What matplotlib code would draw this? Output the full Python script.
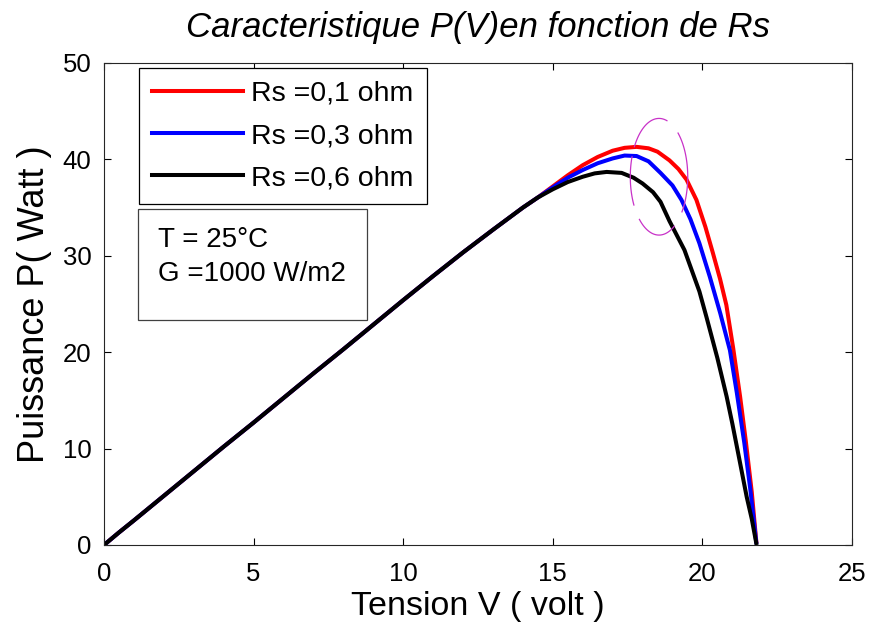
import numpy as np
import matplotlib
matplotlib.use("Agg")
import matplotlib.pyplot as plt
from matplotlib.patches import Rectangle

plt.rcParams['font.family'] = ['Liberation Sans', 'DejaVu Sans']

# common linear rise of the P(V) curves (volt, watt)
v_rise = [0, 0.5, 1, 2, 3, 4, 5, 6, 7, 8, 9, 10, 11, 12, 13, 14, 14.5]
p_rise = [0, 1.3, 2.55, 5.1, 7.65, 10.2, 12.7, 15.25, 17.8, 20.3, 22.85, 25.4, 27.9, 30.35, 32.7, 35.0, 36.05]

# knee and fall for each series resistance
v_rs01 = [15, 15.5, 16, 16.5, 17, 17.4, 17.8, 18.2, 18.5, 18.9, 19.2, 19.47, 19.8, 20.1,
          20.35, 20.59, 20.8, 21.03, 21.26, 21.45, 21.65, 21.8]
p_rs01 = [37.2, 38.35, 39.4, 40.25, 40.9, 41.2, 41.3, 41.15, 40.8, 39.9, 39.0, 37.9, 35.8, 33.0,
          30.3, 27.6, 24.9, 20.4, 15.4, 10.8, 5.5, 0.4]

v_rs03 = [15, 15.5, 16, 16.5, 17, 17.4, 17.8, 18.2, 18.6, 19.0, 19.3, 19.6, 19.9, 20.25,
          20.6, 20.92, 21.15, 21.4, 21.6, 21.8]
p_rs03 = [37.1, 38.1, 38.9, 39.6, 40.1, 40.4, 40.35, 39.8, 38.6, 37.3, 35.8, 33.8, 31.3, 27.8,
          24.0, 20.2, 15.8, 10.6, 5.8, 0.3]

v_rs06 = [15, 15.5, 16, 16.4, 16.8, 17.3, 17.7, 18.0, 18.35, 18.6, 18.9, 19.4, 19.9, 20.14,
          20.5, 20.81, 21.0, 21.26, 21.48, 21.65, 21.8]
p_rs06 = [36.9, 37.65, 38.2, 38.55, 38.7, 38.6, 38.1, 37.5, 36.6, 35.6, 33.6, 30.6, 26.3, 23.6,
          19.4, 15.4, 12.6, 8.5, 5.0, 2.7, 0.2]

labels = ['Rs =0,1 ohm', 'Rs =0,3 ohm', 'Rs =0,6 ohm']
colors = ['#ff0000', '#0000ff', '#000000']

fig = plt.figure(figsize=(8.73, 6.35), dpi=100)
ax = fig.add_axes([104 / 873, 1 - 545 / 635, 748 / 873, 482 / 635])

series = [(v_rs01, p_rs01), (v_rs03, p_rs03), (v_rs06, p_rs06)]
for (v_tail, p_tail), lab, col in zip(series, labels, colors):
    ax.plot(v_rise + v_tail, p_rise + p_tail, color=col, lw=2.9, label=lab)

# magenta marker ellipse around the maximum power points
cx, cy, ra, rb = 18.55, 38.2, 0.96, 6.05
for t1, t2 in [(-37, 48.5), (74, 149), (160, 209), (227, 302)]:
    t = np.deg2rad(np.linspace(t1, t2, 60))
    ax.plot(cx + ra * np.cos(t), cy + rb * np.sin(t), color='#c832c8', lw=0.9)

ax.set_xlim(0, 25)
ax.set_ylim(0, 50)
ax.set_xticks([0, 5, 10, 15, 20, 25])
ax.set_yticks([0, 10, 20, 30, 40, 50])
ax.tick_params(direction='in', length=5, width=0.8, top=True, right=True,
               labelsize=18.5, colors='black')
ax.tick_params(axis='x', pad=12)
ax.tick_params(axis='y', pad=9)
for s in ax.spines.values():
    s.set_linewidth(0.8)
    s.set_color('#262626')

ax.set_xlabel('Tension V ( volt )', fontsize=24.5, labelpad=4)
ax.set_ylabel('Puissance P( Watt )', fontsize=26, labelpad=8)
ax.text(0.5, 1 + 26 / 482, 'Caracteristique P(V)en fonction de Rs', transform=ax.transAxes,
        ha='center', va='baseline', fontsize=25, style='italic')

leg = ax.legend(loc='upper left', bbox_to_anchor=(35 / 748, 477 / 482), borderaxespad=0,
                fontsize=20.5, handlelength=3.2, handletextpad=0.3, labelspacing=0.57,
                borderpad=0.45, fancybox=False, framealpha=1)
leg.get_frame().set_edgecolor('black')
leg.get_frame().set_linewidth(0.9)

# operating conditions box
ax.add_patch(Rectangle((34 / 748, 225 / 482), 229 / 748, 111 / 482, transform=ax.transAxes,
                       fill=False, edgecolor='#404040', lw=0.9))
ax.text(54 / 748, 298 / 482, 'T = 25°C', transform=ax.transAxes, fontsize=20, va='baseline')
ax.text(54 / 748, 264 / 482, 'G =1000 W/m2', transform=ax.transAxes, fontsize=20, va='baseline')

fig.savefig('out.png', dpi=100)
